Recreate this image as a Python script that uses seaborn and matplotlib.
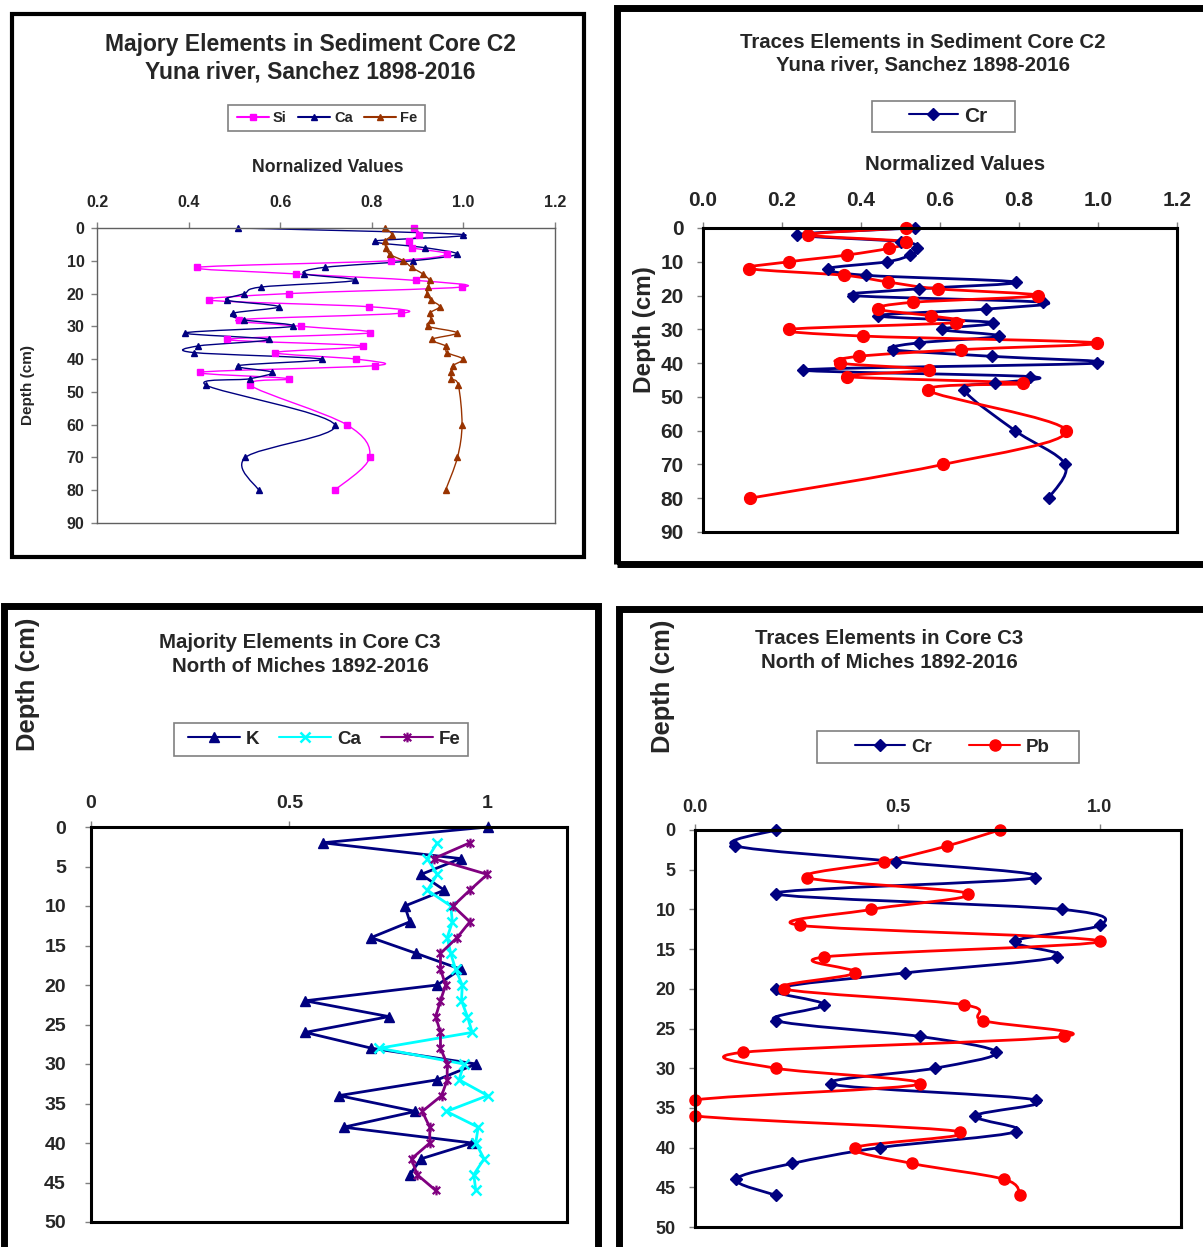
import matplotlib
matplotlib.use("Agg")
import matplotlib.pyplot as plt
import seaborn as sns
from matplotlib.patches import Rectangle, PathPatch
from matplotlib.lines import Line2D
from matplotlib.path import Path

sns.set_style("ticks")
plt.rcParams['font.family'] = ['Liberation Sans', 'DejaVu Sans']

# ---- Core C2 (Yuna river, Sanchez) ----
c2_depth = [0, 2, 4, 6, 8, 10, 12, 14, 16, 18, 20, 22, 24, 26, 28, 30, 32, 34,
            36, 38, 40, 42, 44, 46, 48, 60, 70, 80]
c2_si = [0.893, 0.904, 0.881, 0.888, 0.964, 0.841, 0.419, 0.634, 0.897, 0.998,
         0.620, 0.444, 0.793, 0.864, 0.509, 0.646, 0.797, 0.484, 0.781, 0.589,
         0.766, 0.807, 0.425, 0.620, 0.535, 0.745, 0.795, 0.719]
c2_ca = [0.508, 0.999, 0.806, 0.916, 0.985, 0.889, 0.697, 0.653, 0.764, 0.559,
         0.522, 0.483, 0.597, 0.497, 0.520, 0.628, 0.393, 0.575, 0.420, 0.411,
         0.692, 0.508, 0.582, 0.533, 0.439, 0.719, 0.524, 0.553]
c2_fe = [0.829, 0.844, 0.829, 0.831, 0.839, 0.869, 0.887, 0.911, 0.926, 0.923,
         0.920, 0.930, 0.948, 0.926, 0.930, 0.923, 0.986, 0.931, 0.961, 0.964,
         0.999, 0.977, 0.974, 0.974, 0.989, 0.997, 0.987, 0.961]
c2_cr = [0.537, 0.239, 0.501, 0.543, 0.525, 0.466, 0.317, 0.412, 0.793, 0.548,
         0.380, 0.862, 0.717, 0.444, 0.735, 0.604, 0.750, 0.546, 0.480, 0.731,
         0.998, 0.254, 0.829, 0.738, 0.662, 0.790, 0.917, 0.875]
c2_pb = [0.514, 0.265, 0.514, 0.470, 0.364, 0.218, 0.117, 0.357, 0.469, 0.594,
         0.848, 0.531, 0.442, 0.576, 0.641, 0.218, 0.406, 0.998, 0.653, 0.394,
         0.346, 0.571, 0.364, 0.811, 0.570, 0.919, 0.608, 0.118]

# ---- Core C3 (North of Miches) ----
c3_k_depth = [0, 2, 4, 6, 8, 10, 12, 14, 16, 18, 20, 22, 24, 26, 28, 30, 32,
              34, 36, 38, 40, 42, 44]
c3_k = [1.000, 0.584, 0.932, 0.832, 0.891, 0.791, 0.804, 0.706, 0.820, 0.932,
        0.873, 0.540, 0.751, 0.540, 0.707, 0.971, 0.873, 0.625, 0.818, 0.637,
        0.961, 0.832, 0.804]
c3_cafe_depth = [2, 4, 6, 8, 10, 12, 14, 16, 18, 20, 22, 24, 26, 28, 30, 32,
                 34, 36, 38, 40, 42, 44, 46]
c3_ca = [0.873, 0.848, 0.873, 0.848, 0.907, 0.911, 0.898, 0.907, 0.919, 0.936,
         0.934, 0.949, 0.961, 0.727, 0.940, 0.928, 1.000, 0.896, 0.976, 0.970,
         0.991, 0.965, 0.970]
c3_fe = [0.955, 0.864, 0.999, 0.955, 0.913, 0.955, 0.923, 0.881, 0.881, 0.894,
         0.881, 0.869, 0.881, 0.881, 0.898, 0.898, 0.884, 0.835, 0.854, 0.854,
         0.808, 0.822, 0.869]
c3_tr_depth = [0, 2, 4, 6, 8, 10, 12, 14, 16, 18, 20, 22, 24, 26, 28, 30, 32,
               34, 36, 38, 40, 42, 44, 46]
c3_cr = [0.199, 0.099, 0.497, 0.840, 0.199, 0.906, 1.000, 0.789, 0.894, 0.518,
         0.199, 0.318, 0.199, 0.555, 0.744, 0.593, 0.337, 0.842, 0.692, 0.793,
         0.456, 0.240, 0.101, 0.199]
c3_pb = [0.752, 0.623, 0.466, 0.277, 0.674, 0.435, 0.259, 1.000, 0.318, 0.396,
         0.219, 0.663, 0.711, 0.912, 0.119, 0.199, 0.555, 0.000, 0.000, 0.655,
         0.396, 0.536, 0.764, 0.803]

NAVY = '#000080'
MAGENTA = '#FF00FF'
BROWN = '#993300'
RED = '#FF0000'
CYAN = '#00FFFF'
PURPLE = '#800080'

# excel-like star marker: an x with a vertical bar
star = Path([(-1, -1), (1, 1), (-1, 1), (1, -1), (0, -1.3), (0, 1.3)],
            [Path.MOVETO, Path.LINETO, Path.MOVETO, Path.LINETO, Path.MOVETO, Path.LINETO])

W, H = 1203, 1247
fig = plt.figure(figsize=(W / 100, H / 100), dpi=100)


def fx(px):
    return px / W


def fy(py):
    return 1 - py / H


def frame(x0, y0, x1, y1, lw, col='black'):
    fig.patches.append(Rectangle((fx(x0), fy(y1)), (x1 - x0) / W, (y1 - y0) / H,
                                 transform=fig.transFigure, fill=False,
                                 edgecolor=col, linewidth=lw))


def make_axes(x0, y0, x1, y1, spine_col, spine_w, pad_x, pad_y):
    ax = fig.add_axes([fx(x0), fy(y1), (x1 - x0) / W, (y1 - y0) / H])
    for s in ax.spines.values():
        s.set_visible(True)
        s.set_color(spine_col)
        s.set_linewidth(spine_w)
    ax.xaxis.tick_top()
    ax.tick_params(axis='both', direction='out', length=4, width=1, color='#808080',
                   top=True, left=True, bottom=False, right=False,
                   labeltop=True, labelbottom=False)
    ax.tick_params(axis='x', pad=pad_x)
    ax.tick_params(axis='y', pad=pad_y)
    return ax


def smooth(ax, x, y, color, lw):
    # excel style smoothed line: cubic bezier segments through the data points
    pts = sorted(zip(y, x))
    pts = [(b, a) for a, b in pts]
    n = len(pts)
    verts = [pts[0]]
    codes = [Path.MOVETO]
    for i in range(n - 1):
        p0 = pts[i - 1] if i > 0 else pts[i]
        p1 = pts[i]
        p2 = pts[i + 1]
        p3 = pts[i + 2] if i + 2 < n else pts[i + 1]
        c1 = (p1[0] + (p2[0] - p0[0]) / 6, p1[1] + (p2[1] - p0[1]) / 6)
        c2 = (p2[0] - (p3[0] - p1[0]) / 6, p2[1] - (p3[1] - p1[1]) / 6)
        verts += [c1, c2, p2]
        codes += [Path.CURVE4] * 3
    ax.add_patch(PathPatch(Path(verts, codes), fill=False, edgecolor=color,
                           linewidth=lw, clip_on=True, capstyle='round',
                           joinstyle='round'))


def draw(ax, x, y, color, marker, ms, lw, mew=1.0, curved=True):
    if curved:
        smooth(ax, x, y, color, lw)
    sns.lineplot(x=x, y=y, orient='y', sort=True, color=color, marker=marker,
                 markersize=ms, markeredgecolor=color, markerfacecolor=color,
                 markeredgewidth=mew, linewidth=lw,
                 linestyle='none' if curved else '-', ax=ax,
                 clip_on=False, errorbar=None)
    return Line2D([], [], color=color, marker=marker, markersize=ms, linewidth=1.5,
                  markeredgecolor=color, markerfacecolor=color, markeredgewidth=mew)


def bold_ticks(ax, size):
    for t in ax.get_xticklabels() + ax.get_yticklabels():
        t.set_fontweight('bold')
        t.set_fontsize(size)


def legend(ax, handles, labels, cx, cy, box, size, hl, cs):
    ax.legend(handles, labels, loc='center', bbox_to_anchor=(fx(cx), fy(cy)),
              bbox_transform=fig.transFigure, ncol=len(labels), frameon=False,
              prop={'weight': 'bold', 'size': size}, handlelength=hl,
              columnspacing=cs, handletextpad=0.3, borderpad=0.0)
    frame(*box, 1.2, '#808080')


# ================= Panel 1 =================
frame(12, 14, 584, 557, 3)
ax1 = make_axes(97, 228, 555, 523, '#606060', 1.0, 9, 5)
h_si = draw(ax1, c2_si, c2_depth, MAGENTA, 's', 4.2, 1.0)
h_ca = draw(ax1, c2_ca, c2_depth, NAVY, '^', 5.0, 1.0)
h_fe = draw(ax1, c2_fe, c2_depth, BROWN, '^', 5.0, 1.0)
ax1.set_xlim(0.2, 1.2)
ax1.set_ylim(90, 0)
ax1.set_xticks([0.2, 0.4, 0.6, 0.8, 1.0, 1.2])
ax1.set_xticklabels(['0.2', '0.4', '0.6', '0.8', '1.0', '1.2'])
ax1.set_yticks(range(0, 91, 10))
ax1.set_xlabel('')
ax1.set_ylabel('')
bold_ticks(ax1, 11.5)
legend(ax1, [h_si, h_ca, h_fe], ['Si', 'Ca', 'Fe'], 327, 118, (228, 105, 425, 131),
       10.5, 2.2, 0.75)
fig.text(fx(310), fy(44), 'Majory Elements in Sediment Core C2', ha='center', va='center',
         fontsize=16.5, fontweight='bold')
fig.text(fx(310), fy(72), 'Yuna river, Sanchez 1898-2016', ha='center', va='center',
         fontsize=16.5, fontweight='bold')
fig.text(fx(328), fy(168), 'Nornalized Values', ha='center', va='center',
         fontsize=12.7, fontweight='bold')
fig.text(fx(28), fy(385), 'Depth (cm)', ha='center', va='center', rotation=90,
         fontsize=11, fontweight='bold')

# ================= Panel 2 =================
frame(617, 8, 1215, 564, 5)
ax2 = make_axes(703, 228, 1177, 532, 'black', 2.2, 9, 10)
h_cr2 = draw(ax2, c2_cr, c2_depth, NAVY, 'D', 6.5, 2.0)
draw(ax2, c2_pb, c2_depth, RED, 'o', 8.5, 2.0)
ax2.set_xlim(0.0, 1.2)
ax2.set_ylim(90, 0)
ax2.set_xticks([0.0, 0.2, 0.4, 0.6, 0.8, 1.0, 1.2])
ax2.set_xticklabels(['0.0', '0.2', '0.4', '0.6', '0.8', '1.0', '1.2'])
ax2.set_yticks(range(0, 91, 10))
ax2.set_xlabel('')
ax2.set_ylabel('')
bold_ticks(ax2, 15)
legend(ax2, [h_cr2], ['Cr'], 948, 116, (872, 101, 1015, 132), 15, 2.35, 1.0)
fig.text(fx(923), fy(42), 'Traces Elements in Sediment Core C2', ha='center', va='center',
         fontsize=14.7, fontweight='bold')
fig.text(fx(923), fy(66), 'Yuna river, Sanchez 1898-2016', ha='center', va='center',
         fontsize=14.7, fontweight='bold')
fig.text(fx(955), fy(164), 'Normalized Values', ha='center', va='center',
         fontsize=14.7, fontweight='bold')
fig.text(fx(645), fy(330), 'Depth (cm)', ha='center', va='center', rotation=90,
         fontsize=17.5, fontweight='bold')

# ================= Panel 3 =================
frame(4, 606, 598, 1260, 5)
ax3 = make_axes(91, 827, 567, 1222, 'black', 2.2, 7, 14)
h_k = draw(ax3, c3_k, c3_k_depth, NAVY, '^', 7.5, 2.0, curved=False)
h_ca3 = draw(ax3, c3_ca, c3_cafe_depth, CYAN, 'x', 7.0, 2.0, mew=1.8, curved=False)
h_fe3 = draw(ax3, c3_fe, c3_cafe_depth, PURPLE, star, 7.0, 2.0, mew=1.6, curved=False)
ax3.set_xlim(0.0, 1.2)
ax3.set_ylim(50, 0)
ax3.set_xticks([0.0, 0.5, 1.0])
ax3.set_xticklabels(['0', '0.5', '1'])
ax3.set_yticks(range(0, 51, 5))
ax3.set_xlabel('')
ax3.set_ylabel('')
bold_ticks(ax3, 14)
legend(ax3, [h_k, h_ca3, h_fe3], ['K', 'Ca', 'Fe'], 324, 739, (174, 723, 468, 756),
       13.5, 2.8, 1.05)
fig.text(fx(300), fy(643), 'Majority Elements in Core C3', ha='center', va='center',
         fontsize=14.7, fontweight='bold')
fig.text(fx(300), fy(667), 'North of Miches 1892-2016', ha='center', va='center',
         fontsize=14.7, fontweight='bold')
fig.text(fx(28), fy(684), 'Depth (cm)', ha='center', va='center', rotation=90,
         fontsize=18.4, fontweight='bold')

# ================= Panel 4 =================
frame(619, 609, 1215, 1260, 5)
ax4 = make_axes(695, 830, 1181, 1227, 'black', 2.2, 6, 10)
h_cr4 = draw(ax4, c3_cr, c3_tr_depth, NAVY, 'D', 6.0, 2.0)
h_pb4 = draw(ax4, c3_pb, c3_tr_depth, RED, 'o', 8.0, 2.0)
ax4.set_xlim(0.0, 1.2)
ax4.set_ylim(50, 0)
ax4.set_xticks([0.0, 0.5, 1.0])
ax4.set_xticklabels(['0.0', '0.5', '1.0'])
ax4.set_yticks(range(0, 51, 5))
ax4.set_xlabel('')
ax4.set_ylabel('')
bold_ticks(ax4, 13)
legend(ax4, [h_cr4, h_pb4], ['Cr', 'Pb'], 952, 747, (817, 731, 1079, 763), 13.5, 2.7, 2.0)
fig.text(fx(889), fy(638), 'Traces Elements in Core C3', ha='center', va='center',
         fontsize=14.7, fontweight='bold')
fig.text(fx(889), fy(662), 'North of Miches 1892-2016', ha='center', va='center',
         fontsize=14.7, fontweight='bold')
fig.text(fx(663), fy(686), 'Depth (cm)', ha='center', va='center', rotation=90,
         fontsize=18.4, fontweight='bold')

fig.savefig('out.png', dpi=100)
